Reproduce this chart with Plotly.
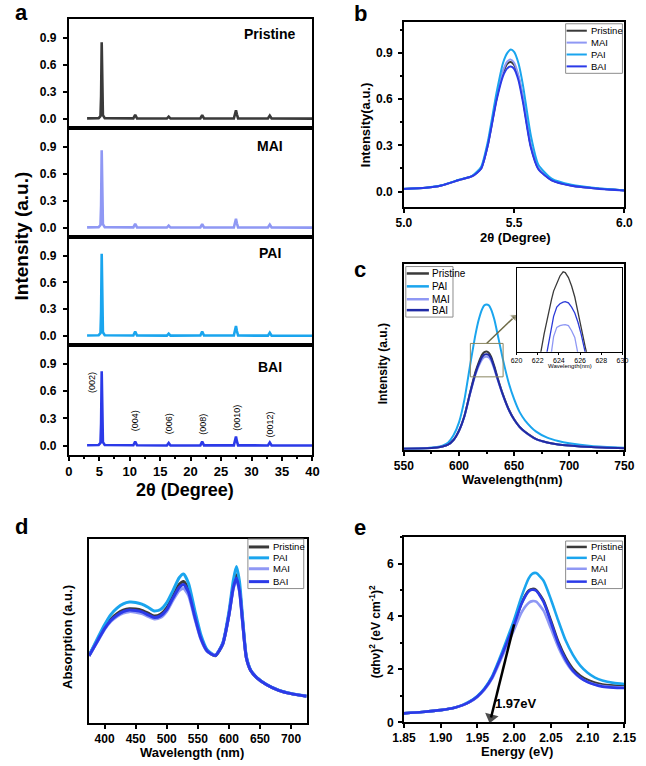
import plotly.graph_objects as go

W, H = 646, 766
FONT = "Liberation Sans, Arial, Helvetica, sans-serif"

# ---------------- colours ----------------
COL = {"Pristine": "#3a3a3a", "MAI": "#8f98f4", "PAI": "#1aa5ee", "BAI": "#2b3ae8"}
COL_BAI_C = "#1f2aa6"

# ---------------- panel a : XRD patterns ----------------
xrd_2theta = [3.0, 4.9, 5.2, 5.3, 5.4, 5.5, 5.6, 5.9, 10.6, 10.9, 11.2, 16.1, 16.4, 16.7,
              21.6, 21.9, 22.2, 27.1, 27.3, 27.45, 27.6, 27.8, 32.7, 33.0, 33.3, 38.3, 38.6, 38.9, 40.0]
xrd_pristine = [0.005, 0.008, 0.03, 0.25, 0.85, 0.3, 0.04, 0.008, 0.005, 0.045, 0.005, 0.003, 0.025, 0.003,
                0.004, 0.04, 0.004, 0.004, 0.07, 0.095, 0.05, 0.004, 0.003, 0.035, 0.003, 0.002, 0.01, 0.002, 0.002]
xrd_mai = [0.005, 0.008, 0.03, 0.25, 0.86, 0.3, 0.04, 0.008, 0.005, 0.045, 0.005, 0.003, 0.025, 0.003,
           0.004, 0.04, 0.004, 0.004, 0.075, 0.10, 0.05, 0.004, 0.003, 0.035, 0.003, 0.002, 0.01, 0.002, 0.002]
xrd_pai = [0.005, 0.008, 0.03, 0.27, 0.92, 0.32, 0.04, 0.008, 0.005, 0.05, 0.005, 0.003, 0.025, 0.003,
           0.004, 0.05, 0.004, 0.004, 0.08, 0.11, 0.055, 0.004, 0.003, 0.035, 0.003, 0.002, 0.01, 0.002, 0.002]
xrd_bai = [0.005, 0.008, 0.03, 0.24, 0.82, 0.29, 0.04, 0.008, 0.005, 0.045, 0.005, 0.003, 0.03, 0.003,
           0.004, 0.045, 0.004, 0.004, 0.075, 0.10, 0.05, 0.004, 0.003, 0.035, 0.003, 0.002, 0.01, 0.002, 0.002]
xrd_ticks = [0, 0.3, 0.6, 0.9]
miller_labels = ["(002)", "(004)", "(006)", "(008)", "(0010)", "(0012)"]
miller_x = [3.8, 10.9, 16.5, 22.0, 27.5, 33.0]
miller_y = [0.70, 0.27, 0.24, 0.24, 0.31, 0.23]

# ---------------- panel b : (002) peak zoom ----------------
b_2theta = [5.0, 5.1, 5.17, 5.25, 5.31, 5.35, 5.38, 5.42, 5.45, 5.47, 5.485, 5.5, 5.52, 5.54,
            5.575, 5.61, 5.67, 5.76, 5.88, 6.0]
b_pristine = [0.017, 0.025, 0.04, 0.075, 0.1, 0.15, 0.3, 0.6, 0.77, 0.83, 0.84, 0.82, 0.74, 0.6,
              0.3, 0.15, 0.075, 0.04, 0.02, 0.008]
b_mai = [0.017, 0.025, 0.04, 0.075, 0.1, 0.15, 0.3, 0.61, 0.785, 0.845, 0.855, 0.835, 0.75, 0.61,
         0.305, 0.152, 0.076, 0.04, 0.02, 0.008]
b_pai = [0.018, 0.026, 0.041, 0.077, 0.103, 0.16, 0.32, 0.64, 0.835, 0.9, 0.92, 0.905, 0.83, 0.69,
         0.37, 0.175, 0.085, 0.045, 0.022, 0.009]
b_bai = [0.017, 0.025, 0.04, 0.075, 0.1, 0.148, 0.295, 0.59, 0.75, 0.8, 0.81, 0.795, 0.72, 0.58,
         0.29, 0.145, 0.073, 0.038, 0.019, 0.008]

# ---------------- panel c : PL ----------------
pl_wl = [550, 570, 580, 585, 590, 595, 600, 605, 610, 615, 618, 621, 623, 625, 627, 629, 632, 635,
         640, 645, 650, 655, 660, 670, 680, 690, 700, 720, 750]
pl_pristine = [0.003, 0.005, 0.01, 0.015, 0.025, 0.05, 0.1, 0.182, 0.305, 0.418, 0.47, 0.51, 0.523, 0.526,
               0.52, 0.5, 0.448, 0.385, 0.293, 0.217, 0.161, 0.121, 0.094, 0.055, 0.037, 0.026, 0.02, 0.012, 0.005]
pl_pai = [0.003, 0.006, 0.012, 0.02, 0.035, 0.075, 0.145, 0.27, 0.45, 0.62, 0.70, 0.755, 0.775, 0.78,
          0.775, 0.755, 0.70, 0.62, 0.48, 0.36, 0.27, 0.2, 0.155, 0.095, 0.063, 0.045, 0.033, 0.018, 0.008]
pl_mai = [0.003, 0.005, 0.01, 0.015, 0.025, 0.05, 0.099, 0.178, 0.296, 0.403, 0.45, 0.484, 0.496, 0.498,
          0.495, 0.478, 0.432, 0.375, 0.287, 0.213, 0.159, 0.12, 0.092, 0.054, 0.036, 0.026, 0.02, 0.012, 0.005]
pl_bai = [0.003, 0.005, 0.01, 0.015, 0.025, 0.05, 0.1, 0.18, 0.3, 0.41, 0.46, 0.497, 0.51, 0.512,
          0.508, 0.49, 0.44, 0.38, 0.29, 0.215, 0.16, 0.12, 0.093, 0.055, 0.037, 0.026, 0.02, 0.012, 0.005]
# inset (zoom of the peak top, normalised to the inset height)
inset_wl = [622.0, 622.3, 622.6, 622.9, 623.3, 623.5, 623.8, 624.1, 624.4, 624.6, 624.9, 625.2, 625.5,
            625.8, 626.1, 626.5, 626.8, 627.0]
inset_pristine = [-0.15, 0.0, 0.21, 0.4, 0.62, 0.72, 0.82, 0.9, 0.95, 0.94, 0.88, 0.78, 0.65,
                  0.47, 0.27, 0.05, -0.1, -0.2]
inset_bai = [-0.6, -0.4, -0.2, 0.0, 0.3, 0.42, 0.53, 0.57, 0.59, 0.595, 0.58, 0.53, 0.46,
             0.35, 0.21, 0.0, -0.15, -0.3]
inset_mai = [-0.8, -0.6, -0.4, -0.2, 0.0, 0.18, 0.29, 0.31, 0.32, 0.322, 0.31, 0.25, 0.17,
             0.0, -0.2, -0.4, -0.6, -0.8]
inset_ticks = [620, 622, 624, 626, 628, 630]
zoom_box_x = [610.3, 640]
zoom_box_y = [0.39, 0.57]
pointer_x = [625, 652]
pointer_y = [0.57, 0.723]

# ---------------- panel d : absorption ----------------
abs_wl = [375, 390, 400, 410, 420, 430, 440, 450, 460, 470, 480, 490, 500, 510, 520, 527, 535, 545,
          555, 565, 578, 590, 600, 607, 612, 617, 622, 628, 635, 645, 660, 680, 700, 725]
abs_pristine = [0.367, 0.46, 0.52, 0.565, 0.595, 0.614, 0.622, 0.62, 0.613, 0.598, 0.582, 0.592, 0.627,
                0.69, 0.753, 0.77, 0.726, 0.59, 0.466, 0.394, 0.367, 0.43, 0.59, 0.744, 0.806, 0.735,
                0.556, 0.358, 0.287, 0.247, 0.211, 0.179, 0.161, 0.147]
abs_pai = [0.367, 0.47, 0.535, 0.59, 0.625, 0.648, 0.658, 0.656, 0.647, 0.63, 0.61, 0.618, 0.655,
           0.72, 0.79, 0.81, 0.76, 0.615, 0.48, 0.4, 0.37, 0.435, 0.605, 0.775, 0.851, 0.77,
           0.575, 0.365, 0.29, 0.248, 0.212, 0.18, 0.162, 0.148]
abs_mai = [0.365, 0.452, 0.51, 0.553, 0.58, 0.598, 0.606, 0.603, 0.596, 0.58, 0.566, 0.574, 0.608,
           0.668, 0.72, 0.731, 0.695, 0.57, 0.455, 0.39, 0.37, 0.43, 0.585, 0.73, 0.78, 0.715,
           0.545, 0.355, 0.287, 0.247, 0.211, 0.179, 0.161, 0.147]
abs_bai = [0.366, 0.455, 0.514, 0.558, 0.587, 0.606, 0.615, 0.612, 0.605, 0.589, 0.574, 0.583, 0.617,
           0.68, 0.737, 0.753, 0.712, 0.58, 0.46, 0.392, 0.368, 0.43, 0.587, 0.735, 0.788, 0.72,
           0.55, 0.356, 0.287, 0.247, 0.211, 0.179, 0.161, 0.147]

# ---------------- panel e : Tauc plot ----------------
tauc_e = [1.85, 1.875, 1.90, 1.92, 1.93, 1.94, 1.95, 1.96, 1.97, 1.98, 1.99, 2.00, 2.01, 2.02, 2.025,
          2.03, 2.04, 2.05, 2.06, 2.07, 2.08, 2.09, 2.10, 2.11, 2.12, 2.135, 2.15]
tauc_pristine = [0.34, 0.39, 0.46, 0.56, 0.65, 0.78, 0.98, 1.27, 1.7, 2.33, 3.01, 3.7, 4.5, 4.98, 5.04,
                 5.0, 4.6, 3.85, 3.05, 2.45, 2.02, 1.76, 1.6, 1.5, 1.43, 1.39, 1.37]
tauc_pai = [0.34, 0.39, 0.46, 0.56, 0.66, 0.8, 1.0, 1.3, 1.74, 2.4, 3.12, 3.88, 4.75, 5.45, 5.62,
            5.64, 5.35, 4.65, 3.85, 3.1, 2.55, 2.14, 1.87, 1.69, 1.58, 1.49, 1.45]
tauc_mai = [0.34, 0.39, 0.46, 0.56, 0.65, 0.77, 0.96, 1.24, 1.65, 2.25, 2.88, 3.5, 4.15, 4.52, 4.58,
            4.56, 4.22, 3.55, 2.85, 2.3, 1.92, 1.68, 1.53, 1.43, 1.37, 1.33, 1.32]
tauc_bai = [0.34, 0.39, 0.46, 0.56, 0.65, 0.78, 0.98, 1.27, 1.69, 2.32, 3.0, 3.68, 4.47, 4.95, 5.01,
            4.97, 4.55, 3.78, 2.98, 2.38, 1.95, 1.69, 1.52, 1.42, 1.35, 1.31, 1.3]
tauc_fit_x = [2.0, 1.967]
tauc_fit_y = [3.7, 0.0]
bandgap_label = "1.97eV"

legend_b = ["Pristine", "MAI", "PAI", "BAI"]
legend_cde = ["Pristine", "PAI", "MAI", "BAI"]


# ---------------- helpers ----------------
def dx(x0, x1):
    return [x0 / W, x1 / W]


def dy(top, bottom):
    return [1 - bottom / H, 1 - top / H]


def tfont(size):
    return dict(family=FONT, size=size, color="black", weight="bold")


def axis(**kw):
    base = dict(showline=True, linecolor="black", linewidth=1.5, mirror=True, showgrid=False,
                zeroline=False, ticks="outside", ticklen=4, tickwidth=1.5, tickcolor="black",
                tickfont=tfont(12))
    base.update(kw)
    return base


def bare_axis(**kw):
    # framed axis without any ticks or tick labels
    base = dict(showline=True, linecolor="black", linewidth=1.5, mirror=True, showgrid=False,
                zeroline=False, ticks="", tickmode="array", tickvals=[], ticktext=[])
    base.update(kw)
    return base


def ann(text, x, y, size, bold=True, angle=0, **kw):
    d = dict(text=text, x=x / W, y=1 - y / H, xref="paper", yref="paper", showarrow=False,
             font=dict(family=FONT, size=size, color="black", weight="bold" if bold else "normal"),
             textangle=angle, xanchor="center", yanchor="middle")
    d.update(kw)
    return d


fig = go.Figure()
layout = {}
annotations = []
shapes = []

# ---------------- panel a ----------------
A_LEFT, A_RIGHT = 59, 312
A_XR = [0, 40]
A_YR = [-0.1, 1.11]
a_series = [("Pristine", xrd_pristine), ("MAI", xrd_mai), ("PAI", xrd_pai), ("BAI", xrd_bai)]
a_tops = [19, 129, 239, 348]
a_bots = [129, 239, 348, 459]
a_label_y = [34, 147, 255, 370]
for i, (name, ys) in enumerate(a_series):
    n = i + 1
    fig.add_trace(go.Scatter(x=xrd_2theta, y=ys, mode="lines", name=name, showlegend=False,
                             line=dict(color=COL[name], width=2.6), xaxis=f"x{n}", yaxis=f"y{n}"))
    if n == 4:
        layout[f"xaxis{n}"] = axis(domain=dx(A_LEFT, A_RIGHT), range=A_XR, anchor=f"y{n}", linewidth=2,
                                   tickvals=list(range(0, 41, 5)), tickfont=tfont(13),
                                   minor=dict(dtick=2.5, ticks="outside", ticklen=2, tickcolor="black"))
    else:
        layout[f"xaxis{n}"] = bare_axis(domain=dx(A_LEFT, A_RIGHT), range=A_XR, anchor=f"y{n}", linewidth=2)
    layout[f"yaxis{n}"] = axis(domain=dy(a_tops[i], a_bots[i]), range=A_YR, anchor=f"x{n}",
                               linewidth=2, tickvals=xrd_ticks, ticklabelstandoff=4,
                               ticktext=[f"{v:.1f}" for v in xrd_ticks])
    annotations.append(ann(name, 268, a_label_y[i], 14))
# Miller indices placed on the BAI sub-panel (mapped from its data coordinates)
for lab, mx, my in zip(miller_labels, miller_x, miller_y):
    px = A_LEFT + (mx - A_XR[0]) / (A_XR[1] - A_XR[0]) * (A_RIGHT - A_LEFT)
    py = a_bots[3] - (my - A_YR[0]) / (A_YR[1] - A_YR[0]) * (a_bots[3] - a_tops[3])
    annotations.append(ann(lab, px, py, 9, bold=False, angle=-90))
annotations.append(ann("2θ (Degree)", 180, 495, 18))
annotations.append(ann("Intensity (a.u.)", 10, 238, 19, angle=-90))

# ---------------- panel b ----------------
for name, ys in [("Pristine", b_pristine), ("MAI", b_mai), ("PAI", b_pai), ("BAI", b_bai)]:
    fig.add_trace(go.Scatter(x=b_2theta, y=ys, mode="lines", name=name, showlegend=False,
                             line=dict(color=COL[name], width=2, shape="spline", smoothing=0.6),
                             xaxis="x5", yaxis="y5"))
layout["xaxis5"] = axis(domain=dx(407, 636), range=[5, 6], anchor="y5", tickvals=[5, 5.5, 6],
                        ticktext=["5.0", "5.5", "6.0"])
layout["yaxis5"] = axis(domain=dy(22, 209), range=[-0.1, 1.1], anchor="x5", tickvals=xrd_ticks,
                        ticktext=[f"{v:.1f}" for v in xrd_ticks], ticklabelstandoff=3,
                        minor=dict(dtick=0.15, tick0=0, ticks="outside", ticklen=2, tickcolor="black"))
annotations.append(ann("2θ (Degree)", 523, 240, 13))
annotations.append(ann("Intensity(a.u.)", 367, 126, 13, angle=-90))

# ---------------- panel c ----------------
for name, ys in [("Pristine", pl_pristine), ("PAI", pl_pai), ("MAI", pl_mai), ("BAI", pl_bai)]:
    c = COL_BAI_C if name == "BAI" else COL[name]
    fig.add_trace(go.Scatter(x=pl_wl, y=ys, mode="lines", name=name, showlegend=False,
                             line=dict(color=c, width=2, shape="spline", smoothing=0.6),
                             xaxis="x6", yaxis="y6"))
layout["xaxis6"] = axis(domain=dx(407, 636), range=[550, 750], anchor="y6",
                        tickvals=[550, 600, 650, 700, 750],
                        minor=dict(dtick=25, ticks="outside", ticklen=2, tickcolor="black"))
layout["yaxis6"] = bare_axis(domain=dy(266, 454), range=[-0.003, 1.0], anchor="x6")
# zoom box and pointer
shapes.append(dict(type="rect", xref="x6", yref="y6", x0=zoom_box_x[0], x1=zoom_box_x[1],
                   y0=zoom_box_y[0], y1=zoom_box_y[1], line=dict(color="#8a8560", width=1)))
fig.add_trace(go.Scatter(x=pointer_x, y=pointer_y, mode="lines+markers", showlegend=False,
                         line=dict(color="#6e6a45", width=1.5), cliponaxis=False,
                         marker=dict(size=[0, 8], symbol="triangle-up", angleref="previous", standoff=3,
                                     color="#6e6a45"),
                         xaxis="x6", yaxis="y6", hoverinfo="skip"))
# inset
for name, ys in [("Pristine", inset_pristine), ("BAI", inset_bai), ("MAI", inset_mai)]:
    c = "#2b3ad8" if name == "BAI" else COL[name]
    fig.add_trace(go.Scatter(x=inset_wl, y=ys, mode="lines", name=name, showlegend=False,
                             line=dict(color=c, width=1.3), xaxis="x7", yaxis="y7"))
layout["xaxis7"] = axis(domain=dx(524, 634), range=[620, 630], anchor="y7", linewidth=1,
                        tickvals=inset_ticks, ticklen=2, tickwidth=0.8,
                        tickfont=dict(family=FONT, size=7, color="black"))
layout["yaxis7"] = bare_axis(domain=dy(270, 355), range=[0, 1.0], anchor="x7", linewidth=1)
annotations.append(ann("Wavelength(nm)", 580, 369, 6, bold=False))
annotations.append(ann("Wavelength(nm)", 520, 484, 13))
annotations.append(ann("Intensity (a.u.)", 385, 367, 12, angle=-90))

# ---------------- panel d ----------------
for name, ys in [("Pristine", abs_pristine), ("PAI", abs_pai), ("MAI", abs_mai), ("BAI", abs_bai)]:
    fig.add_trace(go.Scatter(x=abs_wl, y=ys, mode="lines", name=name, showlegend=False,
                             line=dict(color=COL[name], width=3, shape="spline", smoothing=0.6),
                             xaxis="x8", yaxis="y8"))
layout["xaxis8"] = axis(domain=dx(80, 306), range=[375, 725], anchor="y8",
                        tickvals=[400, 450, 500, 550, 600, 650, 700])
layout["yaxis8"] = bare_axis(domain=dy(544, 730), range=[0, 1.0], anchor="x8")
annotations.append(ann("Wavelength (nm)", 187, 759, 13))
annotations.append(ann("Absorption (a.u.)", 57, 643, 13, angle=-90))

# ---------------- panel e ----------------
for name, ys in [("Pristine", tauc_pristine), ("PAI", tauc_pai), ("MAI", tauc_mai), ("BAI", tauc_bai)]:
    fig.add_trace(go.Scatter(x=tauc_e, y=ys, mode="lines", name=name, showlegend=False,
                             line=dict(color=COL[name], width=2.6, shape="spline", smoothing=0.6),
                             xaxis="x9", yaxis="y9"))
fig.add_trace(go.Scatter(x=tauc_fit_x, y=tauc_fit_y, mode="lines+markers", showlegend=False,
                         line=dict(color="black", width=2.5), cliponaxis=False,
                         marker=dict(size=[0, 12], symbol="triangle-up", angleref="previous", standoff=5,
                                     color="black", line=dict(width=0)),
                         xaxis="x9", yaxis="y9", hoverinfo="skip"))
e_ticks = [1.85, 1.90, 1.95, 2.00, 2.05, 2.10, 2.15]
layout["xaxis9"] = axis(domain=dx(407, 636), range=[1.85, 2.15], anchor="y9", tickvals=e_ticks,
                        ticktext=[f"{v:.2f}" for v in e_ticks])
layout["yaxis9"] = axis(domain=dy(542, 729), range=[0, 7], anchor="x9", tickvals=[0, 2, 4, 6],
                        ticklabelstandoff=2,
                        minor=dict(dtick=1, ticks="outside", ticklen=2, tickcolor="black"))
annotations.append(dict(text=bandgap_label, x=2.003, y=0.71, xref="x9", yref="y9", showarrow=False,
                        font=tfont(13)))
annotations.append(ann("Energy (eV)", 524, 758, 13))
annotations.append(ann("(αhν)<sup>2</sup> (eV cm<sup>-1</sup>)<sup>2</sup>", 377, 637, 12, angle=-90))

# ---------------- panel letters ----------------
for letter, lx, ly in [("a", 10, 13), ("b", 362, 14), ("c", 361, 272), ("d", 10, 531), ("e", 361, 532)]:
    annotations.append(ann(letter, lx, ly, 22))


# ---------------- compact legends (box, line samples, names) ----------------
def draw_legend(names, colors, box, rows, line_x, text_x, size, lw):
    x0, x1, y0, y1 = box
    shapes.append(dict(type="rect", xref="paper", yref="paper", x0=x0 / W, x1=x1 / W,
                       y0=1 - y1 / H, y1=1 - y0 / H, line=dict(color="#8c8c8c", width=1),
                       fillcolor="white", layer="above"))
    for nm, ry in zip(names, rows):
        shapes.append(dict(type="line", xref="paper", yref="paper", x0=line_x[0] / W, x1=line_x[1] / W,
                           y0=1 - ry / H, y1=1 - ry / H, line=dict(color=colors[nm], width=lw),
                           layer="above"))
        annotations.append(ann(nm, text_x, ry, size, bold=False, xanchor="left"))


col_c = dict(COL)
col_c["BAI"] = COL_BAI_C
draw_legend(legend_b, COL, (575, 634, 24, 74), [31, 43, 55, 67], (576, 597), 599, 9.5, 2)
draw_legend(legend_cde, col_c, (409, 458, 269, 320), [276, 289, 302, 313], (410, 433), 434, 10, 2.5)
draw_legend(legend_cde, COL, (245, 303, 544, 594), [552, 563, 574, 587], (246, 267), 269, 9.5, 3)
draw_legend(legend_cde, COL, (575, 634, 546, 594), [552, 563, 574, 587], (576, 597), 599, 9.5, 2.5)

fig.update_layout(**layout)
fig.update_layout(width=W, height=H, margin=dict(l=0, r=0, t=0, b=0), paper_bgcolor="white",
                  plot_bgcolor="rgba(0,0,0,0)", font=dict(family=FONT, color="black"),
                  annotations=annotations, shapes=shapes, showlegend=False)

fig.write_html("out.html", config={"displayModeBar": False},
               post_script="document.body.style.margin='0';")
